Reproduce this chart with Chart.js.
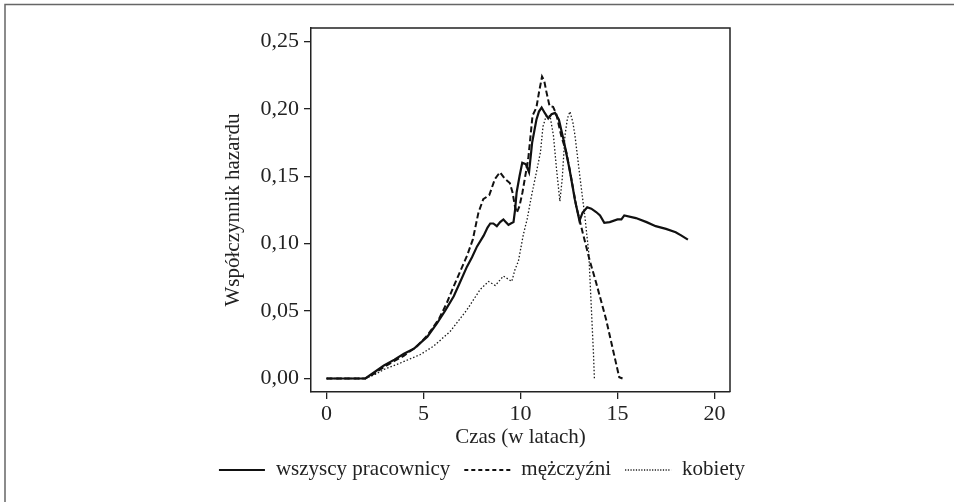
<!DOCTYPE html>
<html lang="pl">
<head>
<meta charset="UTF-8">
<title>Współczynnik hazardu</title>
<script src="https://cdn.jsdelivr.net/npm/chart.js"></script>
<style>
  html, body { margin: 0; padding: 0; background: #fff; }
  #wrap { width: 954px; height: 502px; }
</style>
</head>
<body>
<div id="wrap"><canvas id="hazard" width="954" height="502"></canvas></div>
<script>
// wartości
const seriesNames = ['wszyscy pracownicy', 'mężczyźni', 'kobiety'];

const allX = [0, 1, 2.0, 2.5, 2.96, 3.5, 3.99, 4.5, 4.84, 5.2, 5.7, 6.1, 6.56, 6.9, 7.24, 7.5, 7.76, 8.1, 8.3, 8.44,
  8.6, 8.78, 8.95, 9.12, 9.25, 9.38, 9.5, 9.64, 9.72, 9.8, 9.95, 10.09, 10.27, 10.44, 10.6, 10.82, 10.95, 11.09,
  11.25, 11.43, 11.6, 11.78, 11.98, 12.25, 12.53, 12.8, 13.04, 13.2, 13.44, 13.65, 13.9, 14.1, 14.32, 14.6, 15.0,
  15.2, 15.35, 15.95, 16.5, 16.97, 17.5, 18.0, 18.3, 18.63];
const allY = [0, 0, 0, 0.005, 0.0097, 0.014, 0.0184, 0.022, 0.0264, 0.031, 0.041, 0.05, 0.061, 0.072, 0.083, 0.09,
  0.098, 0.106, 0.112, 0.115, 0.115, 0.113, 0.116, 0.118, 0.116, 0.114, 0.115, 0.116, 0.125, 0.138, 0.15, 0.160,
  0.159, 0.153, 0.175, 0.192, 0.198, 0.201, 0.197, 0.193, 0.196, 0.197, 0.192, 0.175, 0.155, 0.133, 0.117, 0.123,
  0.127, 0.126, 0.1235, 0.121, 0.1155, 0.116, 0.118, 0.118, 0.121, 0.119, 0.116, 0.113, 0.111, 0.1085, 0.106, 0.103];

const menX = [0, 1, 2.0, 2.5, 3.0, 3.5, 4.0, 4.67, 5.2, 5.79, 6.2, 6.56, 7.24, 7.54, 7.83, 8.08, 8.39, 8.68, 8.94,
  9.2, 9.45, 9.59, 9.71, 9.81, 9.95, 10.1, 10.4, 10.62, 10.82, 10.95, 11.11, 11.22, 11.33, 11.5, 11.68, 11.85, 12.1,
  12.36, 12.6, 12.87, 13.21, 13.56, 13.9, 14.41, 14.92, 15.09, 15.26];
const menY = [0, 0, 0, 0.004, 0.009, 0.013, 0.017, 0.024, 0.032, 0.044, 0.056, 0.0685, 0.091, 0.103, 0.123, 0.133,
  0.136, 0.148, 0.153, 0.148, 0.145, 0.138, 0.128, 0.123, 0.128, 0.138, 0.163, 0.195, 0.201, 0.212, 0.224, 0.221,
  0.213, 0.202, 0.2015, 0.196, 0.18, 0.168, 0.15, 0.128, 0.108, 0.088, 0.071, 0.044, 0.0116, 0.001, 0];

const womenX = [0, 1, 2.0, 2.5, 2.96, 3.82, 4.84, 5.52, 6.38, 7.24, 7.92, 8.35, 8.7, 9.12, 9.55, 9.72, 9.89, 10.15,
  10.34, 10.56, 10.82, 11.03, 11.16, 11.33, 11.52, 11.7, 11.86, 12.03, 12.15, 12.29, 12.42, 12.55, 12.7, 12.81, 13.06,
  13.32, 13.52, 13.64, 13.76, 13.81];
const womenY = [0, 0, 0, 0.003, 0.0067, 0.0116, 0.0178, 0.024, 0.035, 0.051, 0.066, 0.072, 0.069, 0.076, 0.072,
  0.081, 0.087, 0.107, 0.118, 0.135, 0.153, 0.168, 0.187, 0.195, 0.195, 0.18, 0.155, 0.1315, 0.148, 0.18, 0.193,
  0.198, 0.19, 0.18, 0.15, 0.12, 0.093, 0.056, 0.019, 0];

const xTicks = [0, 5, 10, 15, 20];
const yTicks = [0, 0.05, 0.10, 0.15, 0.20, 0.25];

const ink = '#222';
const serif = 'Liberation Serif, Times New Roman, serif';

function toPoints(xs, ys) {
  return xs.map((x, i) => ({ x: x, y: ys[i] }));
}

// ramka wokół obszaru wykresu (góra i prawa strona) + ramka obrazka
const plotFrame = {
  id: 'plotFrame',
  afterDraw(chart) {
    const a = chart.chartArea;
    const ctx = chart.ctx;
    ctx.save();
    ctx.strokeStyle = ink;
    ctx.lineWidth = 1.5;
    ctx.beginPath();
    ctx.moveTo(a.left, a.top);
    ctx.lineTo(a.right, a.top);
    ctx.lineTo(a.right, a.bottom);
    ctx.stroke();
    ctx.strokeStyle = '#666';
    ctx.beginPath();
    ctx.moveTo(5, chart.height);
    ctx.lineTo(5, 4.5);
    ctx.lineTo(chart.width, 4.5);
    ctx.stroke();
    ctx.restore();
  }
};

// legenda pod osią X
const bottomKey = {
  id: 'bottomKey',
  afterDraw(chart) {
    const ctx = chart.ctx;
    const lineLen = 46, gapLine = 11, gapText = 14;
    const centerX = 482, lineY = 470, textY = 475;
    ctx.save();
    ctx.font = '21px ' + serif;
    const items = chart.data.datasets.map(ds => ({ ds: ds, w: ctx.measureText(ds.label).width }));
    let total = 0;
    items.forEach((it, i) => {
      total += lineLen + gapLine + it.w + (i < items.length - 1 ? gapText : 0);
    });
    let x = centerX - total / 2;
    items.forEach(it => {
      ctx.strokeStyle = it.ds.borderColor;
      ctx.lineWidth = it.ds.borderWidth;
      ctx.setLineDash(it.ds.keyDash || []);
      ctx.beginPath();
      ctx.moveTo(x, lineY);
      ctx.lineTo(x + lineLen, lineY);
      ctx.stroke();
      ctx.setLineDash([]);
      x += lineLen + gapLine;
      ctx.fillStyle = ink;
      ctx.textBaseline = 'alphabetic';
      ctx.textAlign = 'left';
      ctx.fillText(it.ds.label, x, textY);
      x += it.w + gapText;
    });
    ctx.restore();
  }
};

const ctx = document.getElementById('hazard').getContext('2d');
const hazardChart = new Chart(ctx, {
  type: 'line',
  data: {
    datasets: [
      {
        label: seriesNames[0],
        data: toPoints(allX, allY),
        borderColor: '#111',
        borderWidth: 2.2,
        keyDash: []
      },
      {
        label: seriesNames[1],
        data: toPoints(menX, menY),
        borderColor: '#111',
        borderWidth: 2,
        borderDash: [6, 3],
        keyDash: [4, 3]
      },
      {
        label: seriesNames[2],
        data: toPoints(womenX, womenY),
        borderColor: '#1a1a1a',
        borderWidth: 1.3,
        borderDash: [1.5, 2],
        keyDash: [1.2, 1.5]
      }
    ]
  },
  options: {
    responsive: false,
    animation: false,
    devicePixelRatio: 1,
    layout: { padding: { left: 221, right: 224, top: 28, bottom: 52 } },
    elements: {
      point: { radius: 0 },
      line: { tension: 0, fill: false }
    },
    plugins: {
      legend: { display: false },
      tooltip: { enabled: false }
    },
    scales: {
      x: {
        type: 'linear',
        min: -0.8,
        max: 20.8,
        afterBuildTicks: s => { s.ticks = xTicks.map(v => ({ value: v })); },
        afterFit: s => { s.height = 58; },
        grid: { drawOnChartArea: false, tickLength: 7, color: ink, lineWidth: 1.3 },
        border: { color: ink, width: 1.5 },
        ticks: { color: ink, padding: 2, maxRotation: 0, font: { family: serif, size: 22 } },
        title: { display: true, text: 'Czas (w latach)', color: ink, padding: 0, font: { family: serif, size: 21 } }
      },
      y: {
        type: 'linear',
        min: -0.01,
        max: 0.26,
        afterBuildTicks: s => { s.ticks = yTicks.map(v => ({ value: v })); },
        afterFit: s => { s.width = 90; },
        grid: { drawOnChartArea: false, tickLength: 7, color: ink, lineWidth: 1.3 },
        border: { color: ink, width: 1.5 },
        ticks: {
          color: ink,
          padding: 5,
          font: { family: serif, size: 22 },
          callback: v => v.toFixed(2).replace('.', ',')
        },
        title: { display: true, text: 'Współczynnik hazardu', color: ink, padding: 0, font: { family: serif, size: 21 } }
      }
    }
  },
  plugins: [plotFrame, bottomKey]
});
</script>
</body>
</html>
